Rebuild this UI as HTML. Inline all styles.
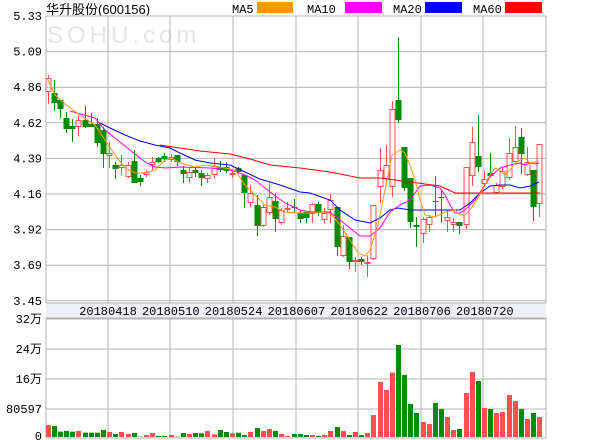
<!DOCTYPE html>
<html><head><meta charset="utf-8"><style>
html,body{margin:0;padding:0;background:#fff;width:600px;height:440px;overflow:hidden}
svg{display:block}
text{font-family:"Liberation Mono","Noto Sans CJK SC",monospace;font-size:12px;fill:#000}
</style></head><body>
<svg id="s" width="600" height="440" xmlns="http://www.w3.org/2000/svg">
<rect x="0" y="0" width="600" height="440" fill="#fff"/>
<text x="46" y="14" style="font-family:'Liberation Sans','Noto Sans CJK SC',sans-serif;font-size:13px">华升股份(600156)</text>
<text x="232" y="13">MA5</text><rect x="257" y="2" width="36" height="11" fill="#ff9900"/>
<text x="307" y="13">MA10</text><rect x="345" y="2" width="37" height="11" fill="#ff00ff"/>
<text x="393" y="13">MA20</text><rect x="425" y="2" width="37" height="11" fill="#0000ff"/>
<text x="473" y="13">MA60</text><rect x="505" y="2" width="37" height="11" fill="#ff0000"/>
<text x="47" y="43" style="font-family:'Liberation Sans',sans-serif;font-size:24px;fill:#e6e6e6;letter-spacing:4px">SOHU.com</text>
<rect x="46" y="303" width="500" height="15" fill="#eeeef6"/>
<g id="g"></g>
</svg>
<script>
var g=document.getElementById('g'),h='';
function L(x1,y1,x2,y2,c,w){h+='<line x1="'+x1+'" y1="'+y1+'" x2="'+x2+'" y2="'+y2+'" stroke="'+c+'" stroke-width="'+(w||1)+'"/>';}
var gc='#b4b4b4';
var xs=[46,108,170,233,296,358,421,483,546];
for(var i=0;i<9;i++){var yy=16+i*35.6;L(46,yy,546,yy,gc);}
xs.forEach(function(x){L(x,16,x,303,gc);L(x,318,x,438,gc);});
[319,349,379,409,438].forEach(function(y){L(46,y,546,y,gc);});
L(46,303,546,303,gc);L(46,318,546,318,gc);
var pl=['5.33','5.09','4.86','4.62','4.39','4.16','3.92','3.69','3.45'];
pl.forEach(function(t,i){h+='<text x="42" y="'+(20+i*35.6)+'" text-anchor="end">'+t+'</text>';});
[['32万',323],['24万',353],['16万',383],['80597',413],['0',440]].forEach(function(a){h+='<text x="42" y="'+a[1]+'" text-anchor="end">'+a[0]+'</text>';});
['20180418','20180510','20180524','20180607','20180622','20180706','20180720'].forEach(function(t,i){h+='<text x="'+(108+i*62.8)+'" y="315" text-anchor="middle">'+t+'</text>';});
var C=[['r',78,92,75,104],['g',93,103,80,111],['g',100,109,100,118],['g',118,129,112,133],['g',126,129,119,142],['r',120,127,115,136],['g',120,127,106,128],['g',124,127,113,127],['g',124,143,118,147],['g',130,154,127,168],['r',153,156,142,168],['g',165,169,162,179],['r',165,168,155,175],['r',165,177,162,178],['g',161,183,150,183],['g',178,182,175,186],['r',172,175,170,177],['r',162,165,157,170],['g',158,162,157,163],['g',156,159,153,162],['r',157,160,154,162],['g',155,162,155,166],['g',170,174,166,183],['r',172,178,168,183],['g',170,173,167,177],['g',173,178,170,186],['r',175,179,173,183],['r',166,175,158,178],['g',167,170,161,172],['g',167,171,162,173],['r',173,175,170,178],['g',168,172,167,173],['g',175,193,175,208],['r',193,203,185,207],['g',205,226,195,236],['r',207,226,205,227],['r',197,213,183,215],['g',201,219,193,232],['r',210,223,208,225],['r',208,210,202,212],['g',207,208,199,213],['g',213,219,210,223],['g',212,218,212,223],['r',204,214,203,223],['g',204,213,202,216],['r',213,220,208,223],['r',200,210,194,223],['g',207,247,207,256],['r',236,256,225,257],['g',237,262,237,269],['r',260,262,257,272],['g',259,262,257,265],['r',262,263,255,277],['r',205,259,205,260],['r',170,187,148,203],['r',165,179,145,184],['r',109,187,101,197],['g',100,120,37,123],['g',147,188,147,191],['g',178,222,178,228],['g',225,227,217,247],['r',219,234,217,243],['r',217,225,215,232],['g',201,202,176,217],['g',197,198,190,223],['r',217,221,210,232],['r',222,225,218,232],['g',222,226,222,234],['r',167,225,167,229],['r',142,176,127,186],['g',156,167,115,172],['r',179,184,170,186],['g',173,176,153,177],['r',185,193,183,194],['r',171,187,167,189],['r',153,178,138,180],['r',147,162,126,163],['g',137,154,128,174],['r',162,175,147,176],['g',170,207,170,221],['r',144,204,144,217]];
var V=[375,378,395,393,395,393,398,398,398,390,396,402,396,402,399,410,405,399,408,408,405,410,399,402,399,400,393,403,390,396,400,398,405,396,384,393,387,393,402,408,402,402,405,405,408,405,393,381,393,405,396,405,399,345,246,270,218,135,225,312,339,366,372,309,327,351,390,387,279,216,243,324,327,339,336,285,303,327,357,339,351];
var RC='#ff5050',GC='#008c00';
C.forEach(function(c,i){var x=Math.round(47.7+i*6.145)+0.5,col=c[0]=='r'?RC:GC;
L(x,c[3],x,c[1],col);L(x,c[2],x,c[4],col);
var bh=Math.max(c[2]-c[1],1);
if(c[0]=='r')h+='<rect x="'+(x-2.5)+'" y="'+(c[1]+0.5)+'" width="5" height="'+Math.max(bh-1,1)+'" fill="none" stroke="'+RC+'"/>';
else h+='<rect x="'+(x-3)+'" y="'+c[1]+'" width="6" height="'+bh+'" fill="'+GC+'"/>';
var vy=300+V[i]/3;h+='<rect x="'+(x-2.5)+'" y="'+vy+'" width="5" height="'+(437-vy)+'" fill="'+col+'"/>';});
function P(pts,col){h+='<polyline fill="none" stroke="'+col+'" stroke-width="1" points="'+pts+'"/>';}
P('160,145 180,148 200,151 230,154 250,159 270,165 290,167 300,168 330,172 360,178 380,178 410,182 440,186 455,193 465,193 480,193 540,193','#ff0000');
P('100,123 110,128 125,135 140,141 155,145 170,148 180,153 195,160 210,163 230,165 245,172 260,179 280,185 300,192 310,193 330,200 340,210 355,220 370,223 380,218 390,210 398,208 410,210 430,210 455,210 460,210 470,203 480,193 490,186 500,185 510,185 520,188 530,186 539,182','#0000ff');
P('70,111 95,118 105,130 120,142 130,150 145,162 155,167 165,168 180,167 210,168 230,170 245,175 255,180 270,192 285,203 300,210 310,212 330,212 340,220 350,228 360,236 370,236 380,228 390,212 400,205 410,200 420,186 430,185 440,188 445,195 450,205 455,213 460,213 465,210 475,200 485,185 490,177 500,168 510,165 520,163 525,165 530,163 535,164 539,163','#ff00ff');
P('47,78 55,95 65,104 80,115 95,125 105,140 115,155 125,168 135,173 145,173 155,170 165,160 172,158 180,163 195,167 205,165 220,167 235,170 245,185 255,195 265,205 275,207 285,212 300,213 310,213 320,212 330,213 340,225 350,240 358,253 365,256 370,250 378,225 385,190 392,155 400,150 405,153 410,165 415,180 420,200 425,215 435,217 445,212 455,210 460,215 465,215 470,210 480,195 490,175 495,168 500,170 505,175 510,170 515,163 520,160 525,158 530,163 535,162 539,161','#ff9900');
g.innerHTML=h;
</script>
</body></html>
